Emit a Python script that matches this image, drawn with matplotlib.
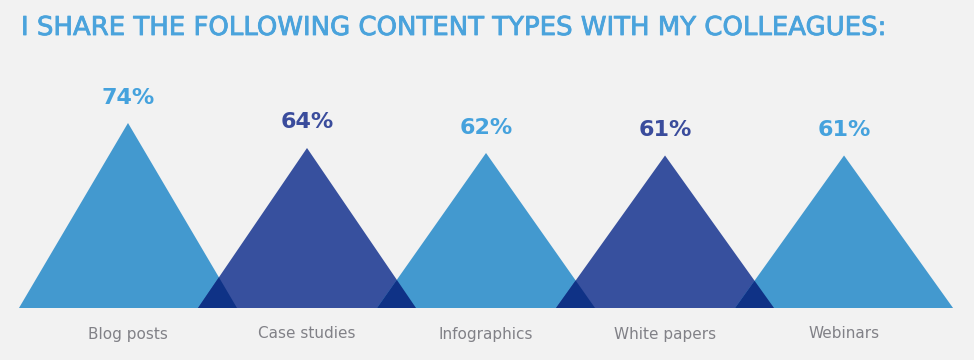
import matplotlib.pyplot as plt
import matplotlib.patheffects as pe
from matplotlib.patches import Polygon

categories = ["Blog posts", "Case studies", "Infographics", "White papers", "Webinars"]
values = [74, 64, 62, 61, 61]
labels = ["74%", "64%", "62%", "61%", "61%"]

light = "#4399cf"
dark = "#37509e"
overlap = "#0f3286"
text_light = "#45a2dd"
text_dark = "#3a4c9c"
bg = "#f2f2f2"

half = 0.609  # half of triangle base, in category units

fig = plt.figure(figsize=(9.74, 3.6), dpi=100, facecolor=bg)
ax = fig.add_axes([0, 0, 1, 1])
ax.set_facecolor(bg)
ax.set_xlim(-0.715, 4.726)
ax.set_ylim(-20.8, 123.2)
ax.axis("off")

for i, (v, lab) in enumerate(zip(values, labels)):
    col = light if i % 2 == 0 else dark
    tcol = text_light if i % 2 == 0 else text_dark
    ax.add_patch(Polygon([(i - half, 0), (i, v), (i + half, 0)], closed=True,
                         facecolor=col, edgecolor="none"))
    ax.text(i, v + 10.2, lab, ha="center", va="center", fontsize=16,
            fontweight="bold", color=tcol, family="DejaVu Sans")
    ax.text(i, -10.4, categories[i], ha="center", va="center", fontsize=11,
            color="#818187", family="DejaVu Sans")

# darker overlap where neighbouring triangles cross
for i in range(len(values) - 1):
    v1, v2 = values[i], values[i + 1]
    x0 = i + 1 - half   # left foot of next triangle
    x1 = i + half       # right foot of this triangle
    xc = (v1 * (i + half) + v2 * (i + 1 - half)) / (v1 + v2)
    yc = v1 * (i + half - xc) / half
    ax.add_patch(Polygon([(x0, 0), (xc, yc), (x1, 0)], closed=True,
                         facecolor=overlap, edgecolor="none"))

fig.text(21 / 974, 1 - 28 / 360, "I SHARE THE FOLLOWING CONTENT TYPES WITH MY COLLEAGUES:",
         ha="left", va="center", fontsize=18.7, color="#4aa3dc", family="DejaVu Sans",
         path_effects=[pe.withStroke(linewidth=0.6, foreground="#4aa3dc")])

fig.savefig("out.png", dpi=100, facecolor=bg)
